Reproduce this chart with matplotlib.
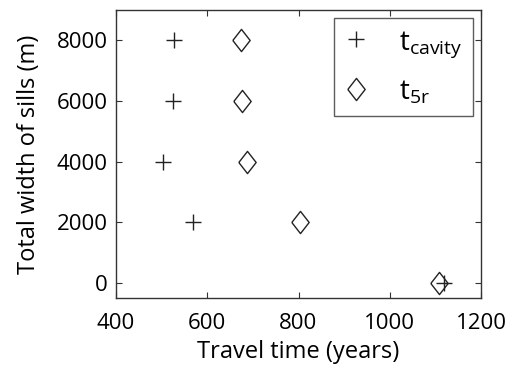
import numpy as np
import matplotlib
matplotlib.use("Agg")
import matplotlib.pyplot as plt

# sill widths and travel times
width = [8000, 6000, 4000, 2000, 0]
t_cavity = [527, 525, 503, 569, 1118]
t_5r = [674, 676, 688, 804, 1107]

plt.rcParams['font.family'] = ['Open Sans', 'DejaVu Sans']
plt.rcParams['mathtext.fontset'] = 'custom'
plt.rcParams['mathtext.rm'] = 'Open Sans'

# tall diamond like the matlab one
diamond = [(-0.78, 0), (0, 1), (0.78, 0), (0, -1), (-0.78, 0)]

fig = plt.figure(figsize=(5.08, 3.66), dpi=100)
ax = fig.add_axes([116 / 508, 68 / 366, 365 / 508, 288 / 366])

ax.plot(t_cavity, width, linestyle="none", marker="+", ms=11.5, mew=1.0,
        color="#222222", label=r"$\mathrm{t}_{\mathrm{cavity}}$")
ax.plot(t_5r, width, linestyle="none", marker=diamond, ms=16, mew=1.0,
        mfc="none", mec="#222222", label=r"$\mathrm{t}_{\mathrm{5r}}$")

ax.set_xlim(400, 1200)
ax.set_ylim(-500, 9000)
ax.set_xticks([400, 600, 800, 1000, 1200])
ax.set_yticks([0, 2000, 4000, 6000, 8000])
ax.tick_params(direction="in", top=True, right=True, length=4,
               labelsize=16, color="#333333", pad=6)
ax.tick_params(axis="x", pad=11)
for s in ax.spines.values():
    s.set_linewidth(1.0)
    s.set_color("#333333")

ax.set_xlabel("Travel time (years)", fontsize=17, labelpad=4)
ax.set_ylabel("Total width of sills (m)", fontsize=17, labelpad=11)

leg = ax.legend(loc="upper right", fontsize=20, frameon=True, fancybox=False,
                edgecolor="#333333", handlelength=0.9, handletextpad=1.1,
                borderpad=0.35, labelspacing=0.65, borderaxespad=0.3)
leg.get_frame().set_linewidth(1.0)

fig.savefig("out.png", dpi=100)
